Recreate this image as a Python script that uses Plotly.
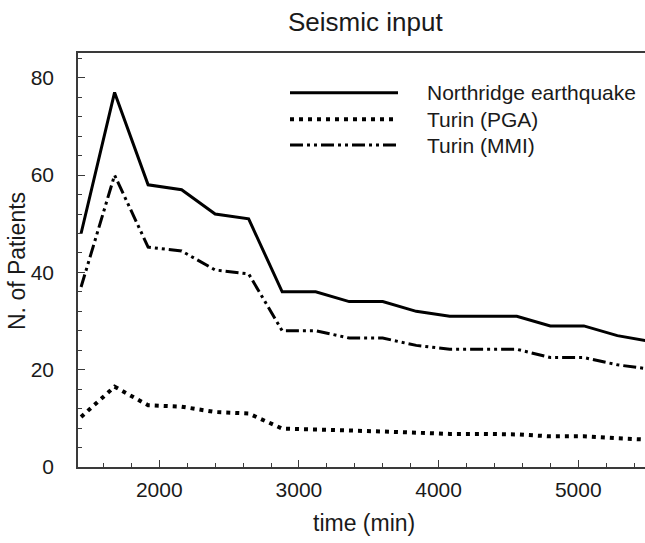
import plotly.graph_objects as go

# ---- data ----
time_min = [1440, 1680, 1920, 2160, 2400, 2640, 2880, 3120, 3360, 3600,
            3840, 4080, 4320, 4560, 4800, 5040, 5280, 5520]
northridge = [48, 77, 58, 57, 52, 51, 36, 36, 34, 34,
              32, 31, 31, 31, 29, 29, 27, 25.8]
turin_pga = [10.3, 16.5, 12.7, 12.4, 11.3, 11.0, 7.9, 7.8, 7.5, 7.3,
             7.0, 6.8, 6.8, 6.7, 6.3, 6.3, 5.9, 5.6]
turin_mmi = [37, 60, 45.2, 44.4, 40.5, 39.7, 28, 28, 26.5, 26.5,
             25, 24.2, 24.2, 24.2, 22.5, 22.5, 21, 20.1]

series_names = ["Northridge earthquake", "Turin (PGA)", "Turin (MMI)"]
series_values = [northridge, turin_pga, turin_mmi]

x_ticks = [2000, 3000, 4000, 5000]
y_ticks = [0, 20, 40, 60, 80]

# ---- styles ----
W, H = 645, 543
ML, MR, MT, MB = 78, 0, 53, 76
FONT = "Liberation Sans, Arial, sans-serif"
INK = "#1a1a1a"
AXIS = "#3a3a3a"
styles = [
    dict(width=3, dash="solid"),
    dict(width=4, dash="4px,5px"),
    dict(width=3, dash="13px,4px,3px,4px,3px,4px"),
]

fig = go.Figure()
for name, vals, st in zip(series_names, series_values, styles):
    fig.add_trace(go.Scatter(
        x=time_min, y=vals, mode="lines", name=name,
        line=dict(color="black", width=st["width"], dash=st["dash"]),
        showlegend=False,
    ))

pw = W - ML - MR
ph = H - MT - MB


def px_x(p):
    return (p - ML) / pw


def px_y(p):
    return (H - MB - p) / ph


# manual legend (long line samples as in the reference)
leg_rows = [92.7, 119.3, 145.0]
for name, st, ry in zip(series_names, styles, leg_rows):
    fig.add_shape(type="line", xref="paper", yref="paper",
                  x0=px_x(290), x1=px_x(398), y0=px_y(ry), y1=px_y(ry),
                  line=dict(color="black", width=st["width"], dash=st["dash"]))
    fig.add_annotation(xref="paper", yref="paper", x=px_x(425), y=px_y(ry),
                       xanchor="left", yanchor="middle", showarrow=False,
                       text=name, font=dict(family=FONT, size=21, color=INK))

# titles
fig.add_annotation(xref="paper", yref="paper", x=px_x(365), y=px_y(22),
                   xanchor="center", yanchor="middle", showarrow=False,
                   text="Seismic input", font=dict(family=FONT, size=26, color=INK))
fig.add_annotation(xref="paper", yref="paper", x=px_x(364), y=px_y(523),
                   xanchor="center", yanchor="middle", showarrow=False,
                   text="time (min)", font=dict(family=FONT, size=23, color=INK))
fig.add_annotation(xref="paper", yref="paper", x=px_x(17), y=px_y(261),
                   xanchor="center", yanchor="middle", showarrow=False, textangle=-90,
                   text="N. of Patients", font=dict(family=FONT, size=23, color=INK))

fig.update_layout(
    width=W, height=H,
    margin=dict(l=ML, r=MR, t=MT, b=MB, pad=0),
    paper_bgcolor="white", plot_bgcolor="white",
    font=dict(family=FONT, size=21, color=INK),
    showlegend=False,
)
fig.update_xaxes(
    range=[1418, 5478], tickvals=x_ticks, ticktext=[str(v) for v in x_ticks],
    showgrid=False, zeroline=False,
    showline=True, linecolor=AXIS, linewidth=1.5, mirror=True,
    ticks="inside", ticklen=7, tickwidth=1.3, tickcolor=AXIS,
    minor=dict(dtick=200, tick0=0, ticks="inside", ticklen=4, tickwidth=1.2,
               tickcolor=AXIS, showgrid=False),
    tickfont=dict(family=FONT, size=21, color=INK), ticklabelstandoff=3,
)
fig.update_yaxes(
    range=[0, 85.1], tickvals=y_ticks, ticktext=[str(v) for v in y_ticks],
    showgrid=False, zeroline=False,
    showline=True, linecolor=AXIS, linewidth=1.5, mirror=False,
    ticks="inside", ticklen=7, tickwidth=1.3, tickcolor=AXIS,
    minor=dict(dtick=4, tick0=0, ticks="inside", ticklen=4, tickwidth=1.2,
               tickcolor=AXIS, showgrid=False),
    tickfont=dict(family=FONT, size=21, color=INK), ticklabelstandoff=18,
)

fig.write_html("out.html", config={"displayModeBar": False},
               post_script="document.body.style.margin='0';document.body.style.padding='0';")
